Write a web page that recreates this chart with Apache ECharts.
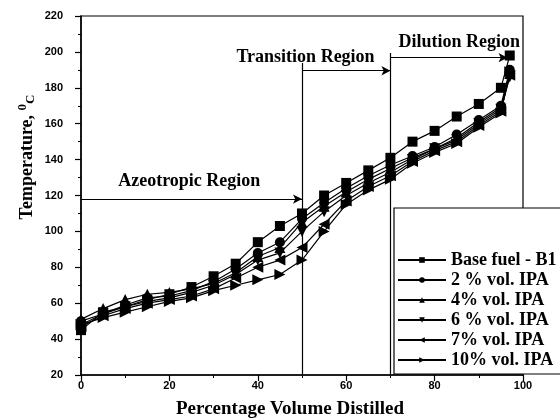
<!DOCTYPE html>
<html>
<head>
<meta charset="utf-8">
<script src="https://cdn.jsdelivr.net/npm/echarts@6/dist/echarts.min.js"></script>
<style>
  html, body { margin: 0; padding: 0; background: #fff; }
  #chart { width: 560px; height: 420px; }
</style>
</head>
<body>
<div id="chart"></div>
<script>
// Distillation curves: temperature vs. percentage volume distilled
const distilled = [0, 5, 10, 15, 20, 25, 30, 35, 40, 45, 50, 55, 60, 65, 70, 75, 80, 85, 90, 95, 97];

const baseFuelB1 = [45, 55, 58, 62, 65, 69, 75, 82, 94, 103, 110, 120, 127, 134, 141, 150, 156, 164, 171, 180, 198];
const ipa2  = [50, 54, 59, 63, 64, 67, 72, 79, 88, 94, 107, 116, 124, 131, 137, 142, 147, 154, 162, 170, 190];
const ipa4  = [51, 57, 62, 65, 66, 68, 71, 77, 86, 91, 105, 114, 122, 129, 135, 141, 146, 152, 161, 169, 188];
const ipa6  = [48, 54, 58, 61, 63, 66, 70, 76, 84, 88, 100, 111, 120, 127, 133, 140, 146, 151, 160, 168, 186];
const ipa7  = [47, 53, 57, 60, 62, 64, 68, 74, 80, 84, 91, 104, 117, 125, 131, 139, 145, 150, 159, 167, 187];
const ipa10 = [48, 52, 55, 58, 61, 63, 67, 70, 73, 76, 84, 100, 115, 123, 129, 138, 144, 149, 158, 166, 189];

const seriesNames = ['Base fuel - B1', '2 % vol. IPA', '4% vol. IPA', '6 % vol. IPA', '7% vol. IPA', '10% vol. IPA'];
const seriesValues = [baseFuelB1, ipa2, ipa4, ipa6, ipa7, ipa10];

// Region boundaries (volume %) and arrow levels (°C)
const regionBounds = [50, 70];
const azeotropicArrow = { from: 0, to: 50, temp: 118 };
const transitionArrow = { from: 50, to: 70, temp: 189.5 };
const dilutionArrow = { from: 70, to: 96.5, temp: 196.8 };
const boundaryTops = [193.8, 199.4];
const regionLabels = [
  { name: 'Azeotropic Region', x: 24.5, y: 128 },
  { name: 'Transition Region', x: 50.8, y: 197.2 },
  { name: 'Dilution Region', x: 85.6, y: 205.5 }
];

const serif = '"Liberation Serif", "Times New Roman", serif';
const sans = '"Liberation Sans", Arial, sans-serif';

// Marker shapes: square, circle, up/down/left/right triangles
const symbols = [
  'rect',
  'circle',
  'path://M5,0 L10,9 L0,9 Z',
  'path://M0,0 L10,0 L5,9 Z',
  'path://M9,0 L9,10 L0,5 Z',
  'path://M0,0 L9,5 L0,10 Z'
];
const symbolSizes = [10, 10, 11, 11, 11, 11];

const series = seriesNames.map((name, i) => ({
  name: name,
  type: 'line',
  data: distilled.map((x, j) => [x, seriesValues[i][j]]),
  symbol: symbols[i],
  symbolSize: symbolSizes[i],
  showSymbol: true,
  itemStyle: { color: '#000' },
  lineStyle: { color: '#000', width: 1.2 },
  z: 3
}));

// Region arrows, boundary lines and region names
series.push({
  name: 'regions',
  type: 'line',
  data: [],
  silent: true,
  markLine: {
    silent: true,
    symbol: ['none', 'arrow'],
    symbolSize: [7, 9],
    lineStyle: { color: '#000', width: 1.2, type: 'solid' },
    label: { show: false },
    emphasis: { disabled: true },
    data: [
      [{ coord: [azeotropicArrow.from, azeotropicArrow.temp] }, { coord: [azeotropicArrow.to, azeotropicArrow.temp] }],
      [{ coord: [transitionArrow.from, transitionArrow.temp] }, { coord: [transitionArrow.to, transitionArrow.temp] }],
      [{ coord: [dilutionArrow.from, dilutionArrow.temp] }, { coord: [dilutionArrow.to, dilutionArrow.temp] }],
      [{ coord: [regionBounds[0], boundaryTops[0]], symbol: 'none' }, { coord: [regionBounds[0], 20], symbol: 'none' }],
      [{ coord: [regionBounds[1], boundaryTops[1]], symbol: 'none' }, { coord: [regionBounds[1], 20], symbol: 'none' }]
    ]
  },
  markPoint: {
    silent: true,
    symbol: 'rect',
    symbolSize: 1,
    itemStyle: { color: 'rgba(0,0,0,0)' },
    label: {
      show: true,
      position: 'inside',
      formatter: '{b}',
      color: '#000',
      fontFamily: serif,
      fontWeight: 'bold',
      fontSize: 18
    },
    data: regionLabels.map(r => ({ name: r.name, coord: [r.x, r.y] }))
  }
});

const chart = echarts.init(document.getElementById('chart'), null, { renderer: 'canvas' });
chart.setOption({
  animation: false,
  backgroundColor: '#fff',
  grid: {
    left: 81, right: 37, top: 16, bottom: 45,
    show: true, borderColor: '#000', borderWidth: 1.2, backgroundColor: 'transparent'
  },
  xAxis: {
    type: 'value',
    min: 0, max: 100, interval: 20,
    axisLine: { lineStyle: { color: '#000', width: 1.5 } },
    axisTick: { length: 6, lineStyle: { color: '#000', width: 1.2 } },
    minorTick: { show: true, splitNumber: 2, length: 3, lineStyle: { color: '#000', width: 1 } },
    splitLine: { show: false },
    axisLabel: { color: '#000', fontFamily: sans, fontWeight: 'bold', fontSize: 11, margin: 5 }
  },
  yAxis: {
    type: 'value',
    min: 20, max: 220, interval: 20,
    axisLine: { lineStyle: { color: '#000', width: 1.5 } },
    axisTick: { length: 6, lineStyle: { color: '#000', width: 1.2 } },
    minorTick: { show: true, splitNumber: 2, length: 3, lineStyle: { color: '#000', width: 1 } },
    splitLine: { show: false },
    axisLabel: { color: '#000', fontFamily: sans, fontWeight: 'bold', fontSize: 11, margin: 18 }
  },
  legend: {
    data: seriesNames,
    orient: 'vertical',
    left: 394, top: 208,
    padding: [43, 80, 5, 3],
    itemGap: 2,
    itemWidth: 48,
    itemHeight: 7,
    backgroundColor: '#fff',
    borderColor: '#000',
    borderWidth: 1.2,
    borderRadius: 0,
    selectedMode: false,
    textStyle: { color: '#000', fontFamily: serif, fontWeight: 'bold', fontSize: 18, padding: [0, 0, 0, 0] },
    z: 10
  },
  graphic: [
    {
      type: 'text',
      x: 290, y: 409,
      style: {
        text: 'Percentage Volume Distilled',
        font: 'bold 19px ' + serif,
        fill: '#000',
        align: 'center',
        verticalAlign: 'middle'
      }
    },
    {
      type: 'text',
      x: 27, y: 157,
      rotation: Math.PI / 2,
      style: {
        text: '{t|Temperature, }{s|0}{c|C}',
        align: 'center',
        verticalAlign: 'middle',
        fill: '#000',
        rich: {
          t: { fontFamily: serif, fontWeight: 'bold', fontSize: 18, lineHeight: 21, verticalAlign: 'middle' },
          s: { fontFamily: serif, fontWeight: 'bold', fontSize: 13, lineHeight: 21, verticalAlign: 'top' },
          c: { fontFamily: serif, fontWeight: 'bold', fontSize: 13, lineHeight: 21, verticalAlign: 'bottom' }
        }
      }
    }
  ],
  series: series
});
</script>
</body>
</html>
